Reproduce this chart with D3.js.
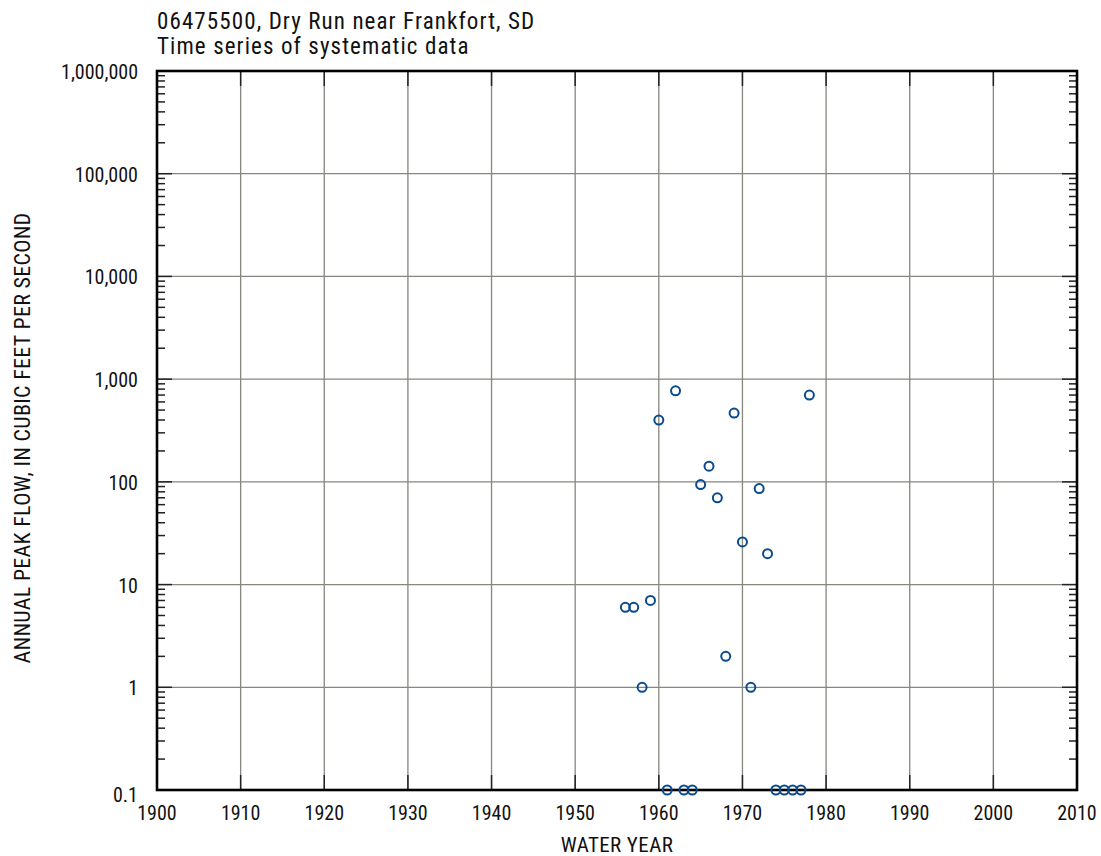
<!DOCTYPE html>
<html>
<head>
<meta charset="utf-8">
<script src="https://cdn.jsdelivr.net/npm/d3@7"></script>
<style>
  html, body { margin: 0; padding: 0; background: #fff; }
  svg { display: block; }
  text { font-family: "Roboto Condensed", "Liberation Sans Narrow", "Arial Narrow", sans-serif; fill: #111; }
</style>
</head>
<body>
<svg id="chart" width="1101" height="856"></svg>
<script>
// ---- data ----
const titleLines = ["06475500, Dry Run near Frankfort, SD", "Time series of systematic data"];
const xLabel = "WATER YEAR";
const yLabel = "ANNUAL PEAK FLOW, IN CUBIC FEET PER SECOND";
const years = [1956, 1957, 1958, 1959, 1960, 1961, 1962, 1963, 1964, 1965, 1966, 1967,
               1968, 1969, 1970, 1971, 1972, 1973, 1974, 1975, 1976, 1977, 1978];
const peaks = [6, 6, 1, 7, 400, 0.1, 770, 0.1, 0.1, 94, 142, 70,
               2, 467, 26, 1, 86, 20, 0.1, 0.1, 0.1, 0.1, 700];
const xTicks = [1900, 1910, 1920, 1930, 1940, 1950, 1960, 1970, 1980, 1990, 2000, 2010];
const yTicks = [0.1, 1, 10, 100, 1000, 10000, 100000, 1000000];
const yTickLabels = ["0.1", "1", "10", "100", "1,000", "10,000", "100,000", "1,000,000"];

// ---- layout ----
const svg = d3.select("#chart");
const L = 157, R = 1077, T = 71, B = 790;
const x = d3.scaleLinear().domain([1900, 2010]).range([L, R]);
const y = d3.scaleLog().domain([0.1, 1000000]).range([B, T]);

// gridlines
const g = svg.append("g");
g.selectAll(".gx").data(xTicks.slice(1, -1)).join("line")
  .attr("x1", d => x(d)).attr("x2", d => x(d)).attr("y1", T).attr("y2", B)
  .attr("stroke", "#86867f").attr("stroke-width", 1.3);
g.selectAll(".gy").data(yTicks.slice(1, -1)).join("line")
  .attr("x1", L).attr("x2", R).attr("y1", d => y(d)).attr("y2", d => y(d))
  .attr("stroke", "#86867f").attr("stroke-width", 1.3);

// minor y ticks
const minors = [];
for (let e = -1; e < 6; e++) for (let m = 2; m <= 9; m++) minors.push(m * Math.pow(10, e));
const tk = svg.append("g").attr("stroke", "#222").attr("stroke-width", 1.5);
tk.selectAll(".ml").data(minors).join("line")
  .attr("x1", L).attr("x2", L + 8).attr("y1", d => y(d)).attr("y2", d => y(d));
tk.selectAll(".mr").data(minors).join("line")
  .attr("x1", R - 8).attr("x2", R).attr("y1", d => y(d)).attr("y2", d => y(d));
// major y ticks
tk.selectAll(".Ml").data(yTicks).join("line")
  .attr("x1", L).attr("x2", L + 15).attr("y1", d => y(d)).attr("y2", d => y(d));
tk.selectAll(".Mr").data(yTicks).join("line")
  .attr("x1", R - 15).attr("x2", R).attr("y1", d => y(d)).attr("y2", d => y(d));
// major x ticks
tk.selectAll(".xb").data(xTicks).join("line")
  .attr("x1", d => x(d)).attr("x2", d => x(d)).attr("y1", B).attr("y2", B - 15);
tk.selectAll(".xt").data(xTicks).join("line")
  .attr("x1", d => x(d)).attr("x2", d => x(d)).attr("y1", T).attr("y2", T + 15);

// frame
svg.append("rect").attr("x", L).attr("y", T).attr("width", R - L).attr("height", B - T)
  .attr("fill", "none").attr("stroke", "#000").attr("stroke-width", 2.6);

// tick labels
svg.selectAll(".xl").data(xTicks).join("text")
  .attr("x", d => x(d)).attr("y", 820).attr("text-anchor", "middle")
  .attr("font-size", 20).text(d => d);
svg.selectAll(".yl").data(yTicks).join("text")
  .attr("x", 138).attr("y", (d, i) => y(d) + (i === 0 ? 12 : 8)).attr("text-anchor", "end")
  .attr("font-size", 20).text((d, i) => yTickLabels[i]);

// axis titles
svg.append("text").attr("x", (L + R) / 2).attr("y", 852).attr("text-anchor", "middle")
  .attr("font-size", 21).attr("letter-spacing", 0.4).text(xLabel);
svg.append("text").attr("transform", "translate(30,438) rotate(-90)")
  .attr("text-anchor", "middle").attr("font-size", 22).attr("letter-spacing", 0.3).text(yLabel);

// title
svg.selectAll(".tt").data(titleLines).join("text")
  .attr("x", L).attr("y", (d, i) => 29 + i * 25).attr("font-size", 23)
  .attr("letter-spacing", 1.1).text(d => d);

// points
svg.append("g").selectAll("circle").data(years.map((yr, i) => [yr, peaks[i]])).join("circle")
  .attr("cx", d => x(d[0])).attr("cy", d => y(d[1])).attr("r", 4.5)
  .attr("fill", "none").attr("stroke", "#0a4b8e").attr("stroke-width", 2);
</script>
</body>
</html>
